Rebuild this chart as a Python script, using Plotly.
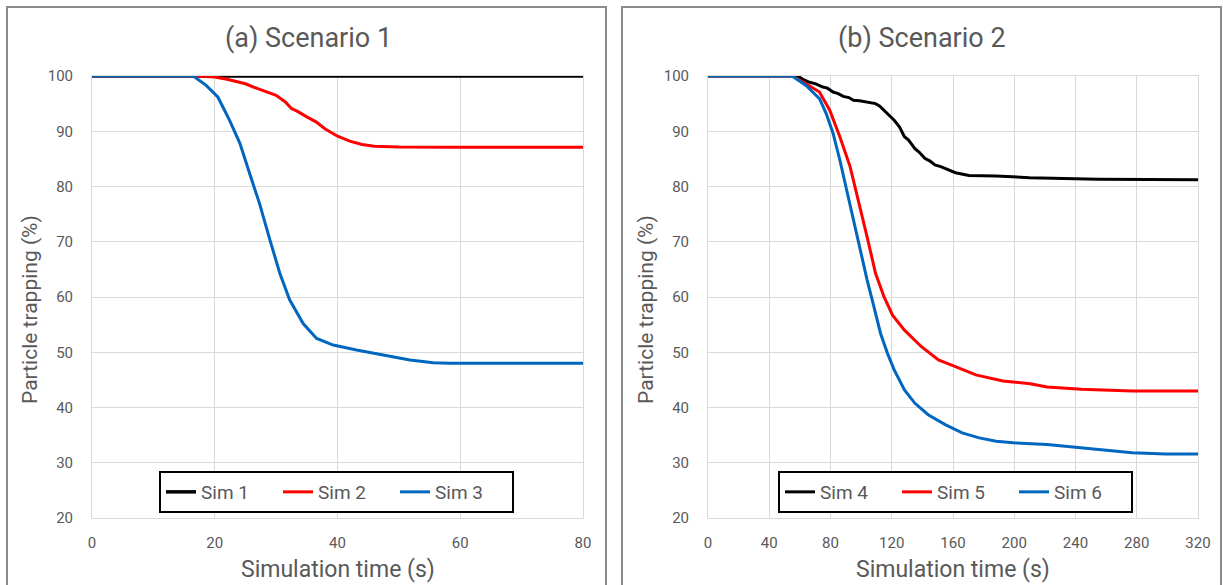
import plotly.graph_objects as go

W, H = 1223, 585

# ---------------- data ----------------
# Scenario 1
s1_t = [0, 80]
s1_v = [100, 100]
s2_t = [0, 17, 20, 22, 25, 27, 30, 31.5, 32.5, 33.5, 35, 36.5, 38, 40, 42, 44, 46, 48, 50, 60, 70, 80]
s2_v = [100, 100, 99.8, 99.4, 98.6, 97.7, 96.5, 95.3, 94.1, 93.6, 92.6, 91.7, 90.4, 89.1, 88.2, 87.6, 87.3, 87.2, 87.15, 87.1, 87.1, 87.1]
s3_t = [0, 16.5, 18.6, 20.5, 22.4, 24.1, 25.7, 27.3, 29, 30.6, 32.2, 34.4, 36.6, 39.3, 43.1, 47.4, 51.8, 55.6, 58.3, 65, 80]
s3_v = [100, 100, 98.3, 96.2, 92, 87.8, 82.3, 76.9, 70.3, 64.3, 59.5, 55.2, 52.5, 51.3, 50.4, 49.5, 48.6, 48.1, 48.0, 48.0, 48.0]

# Scenario 2
s4_t = [0, 58.5, 62, 66, 70, 75, 78, 81.7, 85, 88.3, 92, 95, 99, 103.9, 109.4, 112, 115, 118, 121.6, 125, 128.3, 131,
        135, 138, 141.6, 145, 148.2, 152, 157, 161.6, 170.4, 188, 210, 232.6, 254.8, 320]
s4_v = [100, 100, 99.4, 98.9, 98.6, 98.0, 97.8, 97.1, 96.8, 96.3, 96.1, 95.6, 95.5, 95.3, 95.0, 94.6, 93.8, 93.1, 92.0, 90.8, 89.0, 88.4,
        86.9, 86.2, 85.1, 84.6, 83.9, 83.6, 83.0, 82.5, 82.0, 81.9, 81.6, 81.4, 81.3, 81.2]
s5_t = [0, 55, 64, 72.8, 79.5, 86.1, 92.8, 98.3, 103.9, 109.4, 115, 120.5, 128.3, 139.4, 150.5, 161.6, 174.9, 192.6, 210.4, 221.5, 243.7, 277, 320]
s5_v = [100, 100, 98.6, 97.1, 93.8, 89, 83.6, 77.5, 70.9, 64.3, 60, 56.7, 54, 51, 48.6, 47.4, 45.9, 44.8, 44.3, 43.7, 43.3, 43, 43]
s6_t = [0, 55, 64, 72.8, 77.2, 81.7, 86.1, 90.5, 95, 99.4, 103.9, 108.3, 112.7, 117.2, 121.6, 128.3, 135, 143.8, 154.9,
        166, 177.1, 188.2, 199.3, 221.5, 243.7, 265.9, 277, 299, 320]
s6_v = [100, 100, 98.3, 95.9, 93.2, 89.6, 84.8, 79.3, 73.9, 68.5, 63.1, 58.3, 53.4, 49.8, 46.8, 43.2, 40.8, 38.7, 36.9,
        35.4, 34.5, 33.9, 33.6, 33.3, 32.7, 32.1, 31.8, 31.6, 31.6]

x1_ticks = [0, 20, 40, 60, 80]
x2_ticks = [0, 40, 80, 120, 160, 200, 240, 280, 320]
y_ticks = [20, 30, 40, 50, 60, 70, 80, 90, 100]

titles = ["(a) Scenario 1", "(b) Scenario 2"]
xtitle = "Simulation time (s)"
ytitle = "Particle trapping (%)"

BLACK, RED, BLUE = "#000000", "#FF0000", "#0066C0"
GRID = "#D9D9D9"
TXT = "#595959"
FONT = "Roboto"

def px(x):
    return x / W

def py(y):
    return 1 - y / H

fig = go.Figure()

def add(t, v, name, color, xa, ya, leg, width=3):
    fig.add_trace(go.Scatter(x=t, y=v, name=name, mode="lines",
                             line=dict(color=color, width=width),
                             xaxis=xa, yaxis=ya, legend=leg))

add(s1_t, s1_v, "Sim 1", BLACK, "x", "y", "legend", 3.5)
add(s2_t, s2_v, "Sim 2", RED, "x", "y", "legend")
add(s3_t, s3_v, "Sim 3", BLUE, "x", "y", "legend")
add(s4_t, s4_v, "Sim 4", BLACK, "x2", "y2", "legend2")
add(s5_t, s5_v, "Sim 5", RED, "x2", "y2", "legend2")
add(s6_t, s6_v, "Sim 6", BLUE, "x2", "y2", "legend2")

axis_common = dict(showgrid=True, gridcolor=GRID, gridwidth=1, zeroline=False,
                   showline=True, linecolor=GRID, linewidth=1, mirror=True,
                   tickfont=dict(family=FONT, size=15, color=TXT), ticks="",
                   fixedrange=True, automargin=False)

L1, R1 = 92, 583
L2, R2 = 708, 1198
TOP, BOT = 76, 518

legend_common = dict(orientation="h", y=py(471), yanchor="top",
                     bordercolor="#000000", borderwidth=2, bgcolor="white",
                     font=dict(family=FONT, size=19, color=TXT),
                     entrywidth=72, entrywidthmode="pixels", itemwidth=30)

fig.update_layout(
    width=W, height=H, margin=dict(l=0, r=0, t=0, b=0, autoexpand=False),
    paper_bgcolor="white", plot_bgcolor="white", showlegend=True,
    xaxis=dict(domain=[px(L1), px(R1)], range=[0, 80], tickvals=x1_ticks, anchor="y",
               ticklabelstandoff=11, **axis_common),
    yaxis=dict(domain=[py(BOT), py(TOP)], range=[20, 100], tickvals=y_ticks, anchor="x",
               ticklabelstandoff=15, **axis_common),
    xaxis2=dict(domain=[px(L2), px(R2)], range=[0, 320], tickvals=x2_ticks, anchor="y2",
                ticklabelstandoff=11, **axis_common),
    yaxis2=dict(domain=[py(BOT), py(TOP)], range=[20, 100], tickvals=y_ticks, anchor="x2",
                ticklabelstandoff=15, **axis_common),
    legend=dict(x=px(159), xanchor="left", **legend_common),
    legend2=dict(x=px(778), xanchor="left", **legend_common),
)

# panel borders
for x0, x1 in [(7, 606), (622, 1221)]:
    fig.add_shape(type="rect", xref="paper", yref="paper",
                  x0=px(x0), x1=px(x1), y0=py(590), y1=py(7),
                  line=dict(color="#8C8C8C", width=2), layer="below")

# titles
for cx, txt in [(309, titles[0]), (922, titles[1])]:
    fig.add_annotation(text=txt, xref="paper", yref="paper", x=px(cx), y=py(38),
                       xanchor="center", yanchor="middle", showarrow=False,
                       font=dict(family=FONT, size=27, color=TXT))

# axis titles
for cx in [(L1 + R1) / 2, (L2 + R2) / 2]:
    fig.add_annotation(text=xtitle, xref="paper", yref="paper", x=px(cx), y=py(569),
                       xanchor="center", yanchor="middle", showarrow=False,
                       font=dict(family=FONT, size=23, color=TXT))
for cx in [30, 646]:
    fig.add_annotation(text=ytitle, xref="paper", yref="paper", x=px(cx), y=py(310),
                       xanchor="center", yanchor="middle", showarrow=False, textangle=-90,
                       font=dict(family=FONT, size=21, color=TXT))

fig.write_html("out.html")
